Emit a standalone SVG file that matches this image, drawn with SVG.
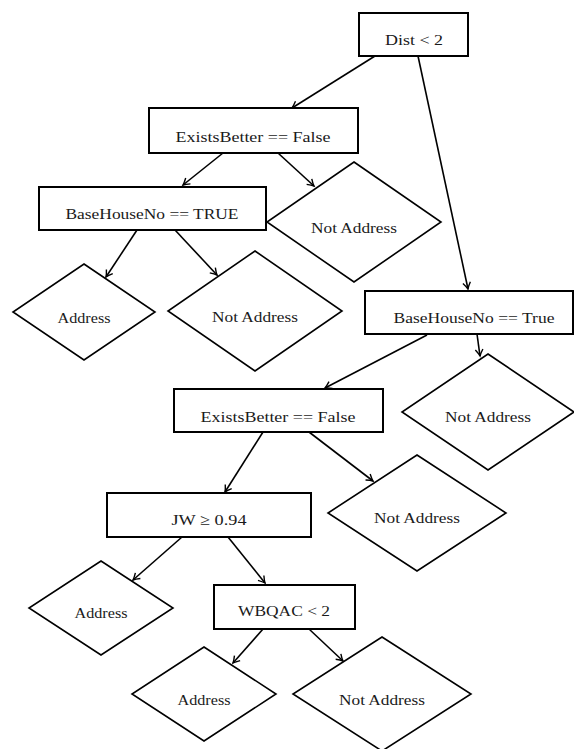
<svg xmlns="http://www.w3.org/2000/svg" width="574" height="749" viewBox="0 0 574 749">
<defs>
<style>
.box{fill:#fff;stroke:#000;stroke-width:2}
.dia{fill:#fff;stroke:#000;stroke-width:1.6}
.lbl{font-family:'Liberation Serif','DejaVu Serif','Times New Roman',Times,serif;font-size:15.5px;fill:#1a1a1a;text-anchor:middle}
.edge{stroke:#000;stroke-width:1.6;fill:none;marker-end:url(#arr)}
</style>
<marker id="arr" viewBox="-8 -5 10 10" refX="0" refY="0" markerWidth="10" markerHeight="10" markerUnits="userSpaceOnUse" orient="auto">
<path d="M -6.5 -3.8 Q -2.5 -1 0 0 Q -2.5 1 -6.5 3.8" fill="none" stroke="#000" stroke-width="1.4"/>
</marker>
</defs>
<rect width="574" height="749" fill="#fff"/>
<g id="connectors">
<line class="edge" x1="375" y1="56" x2="292" y2="108"/>
<line class="edge" x1="418" y1="56" x2="468" y2="289"/>
<line class="edge" x1="223" y1="153" x2="183" y2="185"/>
<line class="edge" x1="278" y1="153" x2="314" y2="186"/>
<line class="edge" x1="137" y1="230" x2="106" y2="277"/>
<line class="edge" x1="175" y1="230" x2="217" y2="275"/>
<line class="edge" x1="477" y1="334" x2="480" y2="356"/>
<line class="edge" x1="427" y1="335" x2="325" y2="388"/>
<line class="edge" x1="263" y1="432" x2="225" y2="492"/>
<line class="edge" x1="309" y1="432" x2="373" y2="481"/>
<line class="edge" x1="182" y1="537" x2="133" y2="580"/>
<line class="edge" x1="228" y1="537" x2="265" y2="583"/>
<line class="edge" x1="263" y1="629" x2="233" y2="663"/>
<line class="edge" x1="309" y1="629" x2="343" y2="661"/>
</g>
<g id="n-dist">
<rect class="box" x="359" y="13" width="109" height="43"/>
<text class="lbl" x="414" y="45" textLength="58" lengthAdjust="spacingAndGlyphs">Dist &lt; 2</text>
</g>
<g id="n-eb1">
<rect class="box" x="149" y="108" width="209" height="45"/>
<text class="lbl" x="253" y="142" textLength="155" lengthAdjust="spacingAndGlyphs">ExistsBetter == False</text>
</g>
<g id="n-na1">
<polygon class="dia" points="354,162 441,222 354,282 267,222"/>
<text class="lbl" x="354" y="233" textLength="86" lengthAdjust="spacingAndGlyphs">Not Address</text>
</g>
<g id="n-bhn1">
<rect class="box" x="39" y="187" width="227" height="43"/>
<text class="lbl" x="152" y="219" textLength="173" lengthAdjust="spacingAndGlyphs">BaseHouseNo == TRUE</text>
</g>
<g id="n-addr1">
<polygon class="dia" points="84,264 155,312 84,360 13,312"/>
<text class="lbl" x="84" y="323" textLength="53" lengthAdjust="spacingAndGlyphs">Address</text>
</g>
<g id="n-na2">
<polygon class="dia" points="255,251 342,311 255,371 168,311"/>
<text class="lbl" x="255" y="322" textLength="86" lengthAdjust="spacingAndGlyphs">Not Address</text>
</g>
<g id="n-bhn2">
<rect class="box" x="365" y="291" width="208" height="43"/>
<text class="lbl" x="474" y="323" textLength="161" lengthAdjust="spacingAndGlyphs">BaseHouseNo == True</text>
</g>
<g id="n-na3">
<polygon class="dia" points="488,354 574,412 488,470 402,412"/>
<text class="lbl" x="488" y="422" textLength="86" lengthAdjust="spacingAndGlyphs">Not Address</text>
</g>
<g id="n-eb2">
<rect class="box" x="174" y="389" width="209" height="43"/>
<text class="lbl" x="278" y="422" textLength="155" lengthAdjust="spacingAndGlyphs">ExistsBetter == False</text>
</g>
<g id="n-na4">
<polygon class="dia" points="417,455 506,513 417,571 328,513"/>
<text class="lbl" x="417" y="523" textLength="86" lengthAdjust="spacingAndGlyphs">Not Address</text>
</g>
<g id="n-jw">
<rect class="box" x="107" y="493" width="204" height="44"/>
<text class="lbl" x="209" y="525" textLength="75" lengthAdjust="spacingAndGlyphs">JW ≥ 0.94</text>
</g>
<g id="n-addr2">
<polygon class="dia" points="101,561 173,608 101,655 29,608"/>
<text class="lbl" x="101" y="618" textLength="53" lengthAdjust="spacingAndGlyphs">Address</text>
</g>
<g id="n-wbqac">
<rect class="box" x="214" y="585" width="141" height="44"/>
<text class="lbl" x="284" y="616" textLength="92" lengthAdjust="spacingAndGlyphs">WBQAC &lt; 2</text>
</g>
<g id="n-addr3">
<polygon class="dia" points="204,647 276,694 204,741 132,694"/>
<text class="lbl" x="204" y="705" textLength="53" lengthAdjust="spacingAndGlyphs">Address</text>
</g>
<g id="n-na5">
<polygon class="dia" points="382,637 471,694 382,751 293,694"/>
<text class="lbl" x="382" y="705" textLength="86" lengthAdjust="spacingAndGlyphs">Not Address</text>
</g>
</svg>
